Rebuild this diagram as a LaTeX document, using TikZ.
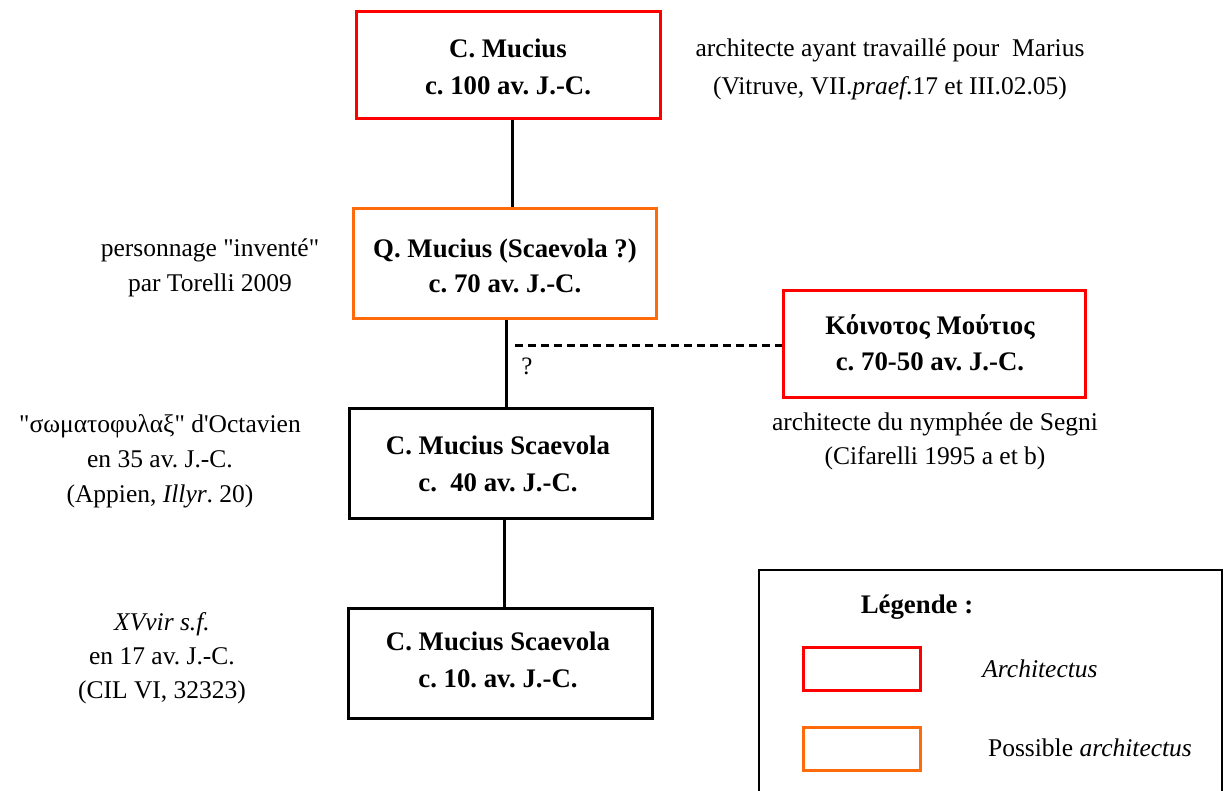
\documentclass[tikz,border=0pt]{standalone}
\usepackage{fontspec}
\defaultfontfeatures[\rmfamily]{}
\setmainfont{Liberation Serif}
\frenchspacing
\definecolor{archred}{RGB}{255,0,0}
\definecolor{archorange}{RGB}{255,106,10}
\tikzset{
  txt/.style={font=\fontsize{25.5}{36}\selectfont, inner sep=0pt, align=center, anchor=base},
  btxt/.style={font=\fontsize{26.8}{37}\selectfont\bfseries, inner sep=0pt, align=center, anchor=base},
  boxbase/.style={draw, line width=3pt, inner sep=0pt},
  redbox/.style={boxbase, draw=archred},
  orangebox/.style={boxbase, draw=archorange},
  blackbox/.style={boxbase, draw=black},
  link/.style={line width=3pt, black},
  dlink/.style={line width=3pt, black, dash pattern=on 8pt off 5pt}
}
\begin{document}
\begin{tikzpicture}[x=1pt,y=-1pt]
\useasboundingbox (0,0) rectangle (1226,790);
% boxes
\node[redbox, minimum width=304pt, minimum height=107pt] (b1) at (508,64.5) {};
\node[orangebox, minimum width=303pt, minimum height=110pt] (b2) at (504.5,263) {};
\node[redbox, minimum width=302pt, minimum height=107pt] (b3) at (934,343.5) {};
\node[blackbox, minimum width=303pt, minimum height=110pt] (b4) at (500.5,463) {};
\node[blackbox, minimum width=304pt, minimum height=110pt] (b5) at (500,663.5) {};
% box texts (anchor = baseline of last line)
\node[btxt] (t1) at (508,94) {C. Mucius\\c. 100 av. J.-C.};
\node[btxt, font=\fontsize{26.8}{35}\selectfont\bfseries] (t2) at (505,292) {Q. Mucius (Scaevola ?)\\c. 70 av. J.-C.};
\node[btxt, font=\fontsize{26.8}{36}\selectfont\bfseries] (t3) at (930,370) {Κόινοτος Μούτιος\\c. 70-50 av. J.-C.};
\node[btxt] (t4) at (498,491) {C. Mucius Scaevola\\c.\ \ 40 av. J.-C.};
\node[btxt] (t5) at (498,687) {C. Mucius Scaevola\\c. 10. av. J.-C.};
% connectors
\coordinate (c12) at (512,0);
\coordinate (c24) at (506,0);
\coordinate (c45) at (504,0);
\draw[link] (b1.south -| c12) -- (b2.north -| c12);
\draw[link] (b2.south -| c24) -- (b4.north -| c24);
\draw[link] (b4.south -| c45) -- (b5.north -| c45);
\coordinate (dstart) at (515,345);
\draw[dlink] (dstart) -- (dstart -| b3.west);
\node[font=\fontsize{25}{28}\selectfont, inner sep=0pt, anchor=base] (q) at (527,374) {?};
% annotations
\node[txt, font=\fontsize{25.5}{38}\selectfont] (a1) at (890,94) {architecte ayant travaillé pour\ \ Marius\\(Vitruve, VII.\textit{praef}.17 et III.02.05)};
\node[txt, font=\fontsize{25.5}{35}\selectfont] (a2) at (210,291) {personnage "inventé"\\par Torelli 2009};
\node[txt, font=\fontsize{25.5}{35}\selectfont] (a3) at (160,502) {"σωματοφυλαξ" d'Octavien\\en 35 av. J.-C.\\(Appien, \textit{Illyr}. 20)};
\node[txt, font=\fontsize{25.5}{34}\selectfont] (a4) at (162,698) {\textit{XVvir s.f.}\\en 17 av. J.-C.\\(CIL VI, 32323)};
\node[txt, font=\fontsize{25.5}{34}\selectfont] (a5) at (935,464) {architecte du nymphée de Segni\\(Cifarelli 1995 a et b)};
% legend
\draw[line width=1.6pt] (759,800) -- (759,570) -- (1222,570) -- (1222,800);
\node[btxt] (lt) at (917,613) {Légende :};
\node[redbox, minimum width=117pt, minimum height=43pt] (lr) at (861.5,668.5) {};
\node[orangebox, minimum width=117pt, minimum height=43pt] (lo) at (861.5,748.5) {};
\node[txt] (lrt) at (1040,677) {\textit{Architectus}};
\node[txt] (lot) at (1090,756) {Possible \textit{architectus}};
\end{tikzpicture}
\end{document}
